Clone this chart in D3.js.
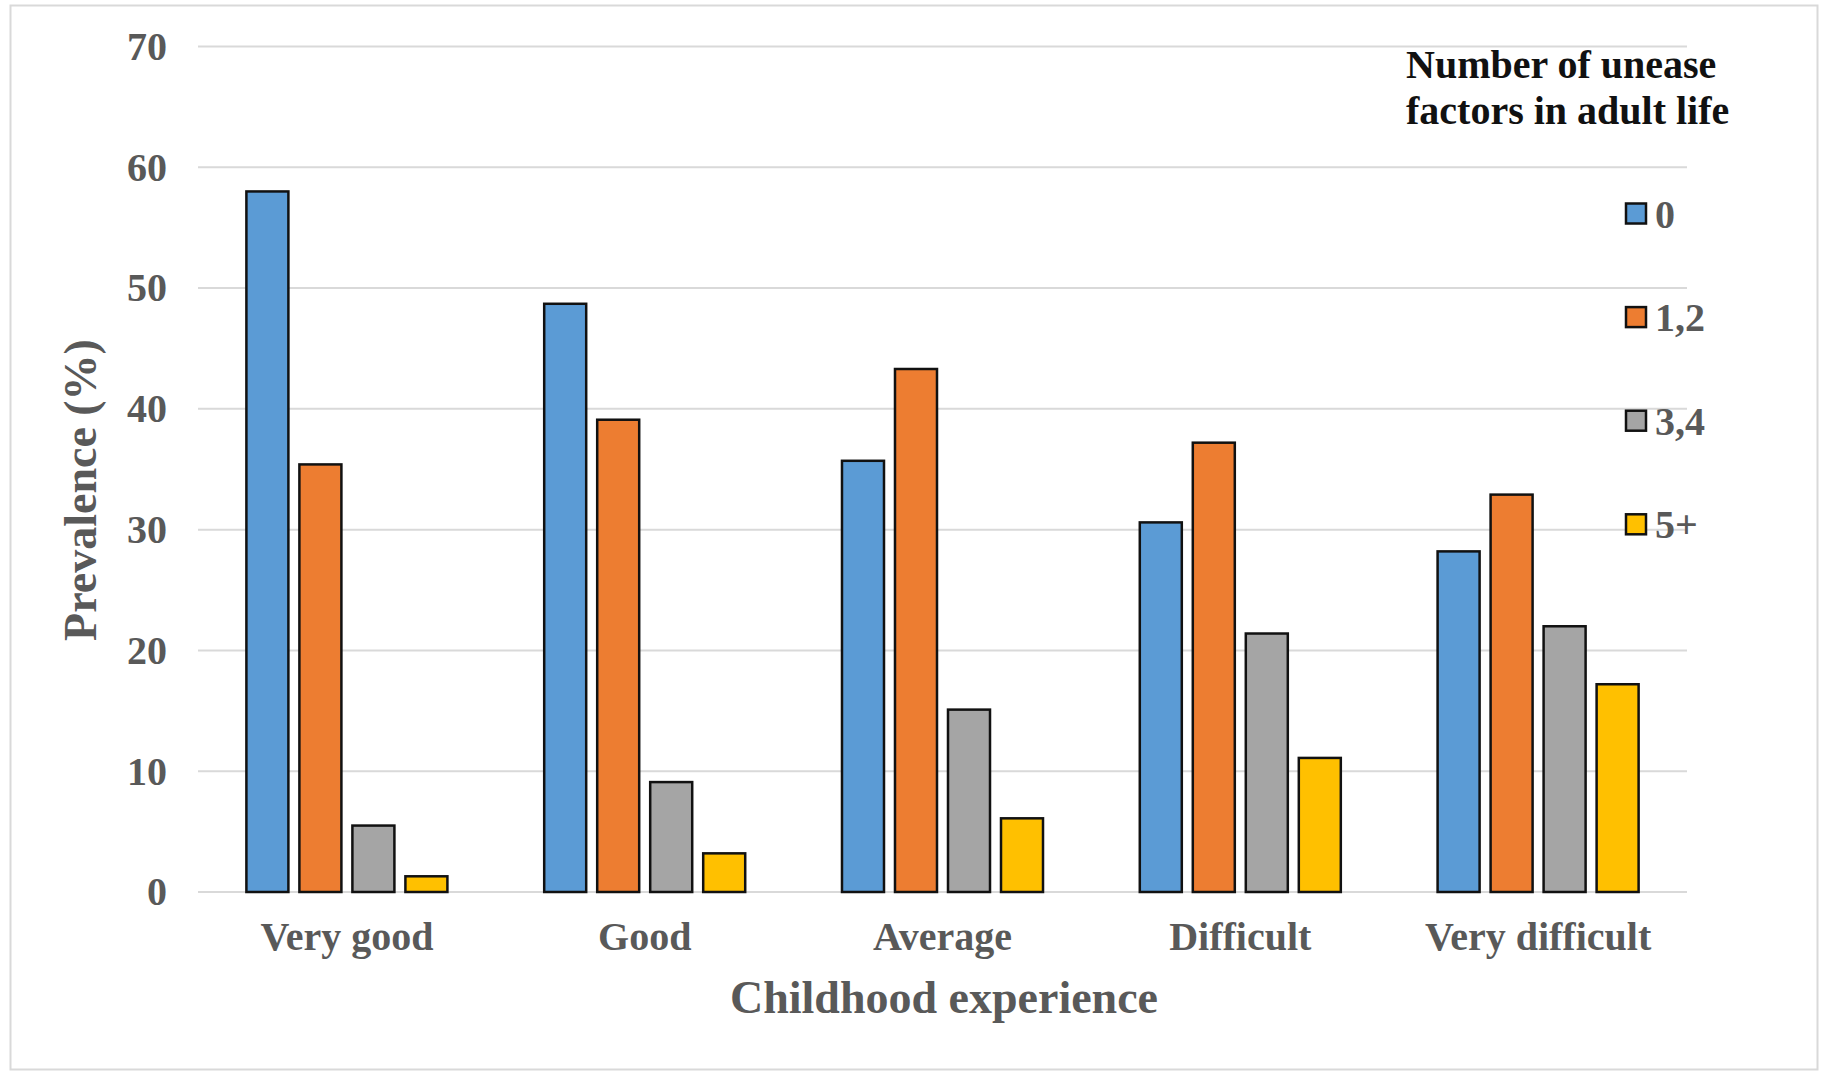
<!DOCTYPE html>
<html>
<head>
<meta charset="utf-8">
<script src="https://cdn.jsdelivr.net/npm/d3@7"></script>
<style>
  html, body { margin: 0; padding: 0; background: #ffffff; }
  svg { display: block; }
  text { font-family: "Liberation Serif", "Times New Roman", serif; font-weight: bold; }
</style>
</head>
<body>
<svg id="chart" width="1824" height="1072"></svg>
<script>
// Childhood experience groups
const categories = ["Very good", "Good", "Average", "Difficult", "Very difficult"];
// Number of unease factors in adult life
const seriesNames = ["0", "1,2", "3,4", "5+"];
const seriesColors = ["#5B9BD5", "#ED7D31", "#A5A5A5", "#FFC000"];
// Prevalence (%) per series, one value per category
const values0   = [58.0, 48.7, 35.7, 30.6, 28.2];
const values12  = [35.4, 39.1, 43.3, 37.2, 32.9];
const values34  = [5.5, 9.1, 15.1, 21.4, 22.0];
const values5p  = [1.3, 3.2, 6.1, 11.1, 17.2];
const yTicks = [0, 10, 20, 30, 40, 50, 60, 70];

const seriesValues = [values0, values12, values34, values5p];

const svg = d3.select("#chart");
const plot = { left: 198, right: 1687, top: 46.5, bottom: 892 };

// outer frame
svg.append("rect")
  .attr("x", 10.5).attr("y", 5.5)
  .attr("width", 1807).attr("height", 1064)
  .attr("fill", "#ffffff")
  .attr("stroke", "#d9d9d9").attr("stroke-width", 2);

const y = d3.scaleLinear().domain([0, 70]).range([plot.bottom, plot.top]);
const x0 = d3.scaleBand().domain(categories).range([plot.left, plot.right]).padding(0);
const x1 = d3.scaleBand().domain(seriesNames).range([0, x0.bandwidth()])
  .paddingInner(0.2075).paddingOuter(0.913);

// gridlines
svg.append("g")
  .selectAll("line")
  .data(yTicks)
  .join("line")
  .attr("x1", plot.left).attr("x2", plot.right)
  .attr("y1", d => y(d)).attr("y2", d => y(d))
  .attr("stroke", "#d9d9d9").attr("stroke-width", 2);

// y axis tick labels
const yAxis = d3.axisLeft(y).tickValues(yTicks).tickSize(0).tickPadding(0);
const yg = svg.append("g").attr("transform", `translate(167,0)`).call(yAxis);
yg.select(".domain").remove();
yg.selectAll("text")
  .attr("font-family", "Liberation Serif, Times New Roman, serif")
  .attr("font-weight", "bold")
  .attr("font-size", 40)
  .attr("fill", "#595959");

// bars
const groups = svg.append("g")
  .selectAll("g")
  .data(categories)
  .join("g")
  .attr("transform", c => `translate(${x0(c)},0)`);

groups.selectAll("rect")
  .data((c, ci) => seriesNames.map((s, si) => ({ s, si, v: seriesValues[si][ci] })))
  .join("rect")
  .attr("x", d => x1(d.s))
  .attr("width", x1.bandwidth())
  .attr("y", d => y(d.v))
  .attr("height", d => y(0) - y(d.v))
  .attr("fill", d => seriesColors[d.si])
  .attr("stroke", "#111111")
  .attr("stroke-width", 2.5);

// x axis category labels
const xAxis = d3.axisBottom(x0).tickSize(0).tickPadding(0);
const xg = svg.append("g").attr("transform", `translate(0,${plot.bottom})`).call(xAxis);
xg.select(".domain").remove();
xg.selectAll("text")
  .attr("dy", null)
  .attr("y", 58)
  .attr("font-family", "Liberation Serif, Times New Roman, serif")
  .attr("font-weight", "bold")
  .attr("font-size", 40)
  .attr("fill", "#595959");

// axis titles
svg.append("text")
  .attr("x", 944).attr("y", 1013)
  .attr("text-anchor", "middle")
  .attr("font-size", 46)
  .attr("fill", "#595959")
  .text("Childhood experience");

svg.append("text")
  .attr("transform", "translate(96,490) rotate(-90)")
  .attr("text-anchor", "middle")
  .attr("font-size", 46)
  .attr("fill", "#595959")
  .text("Prevalence (%)");

// legend
const legendTitle = ["Number of unease", "factors in adult life"];
svg.append("g")
  .selectAll("text")
  .data(legendTitle)
  .join("text")
  .attr("x", 1406)
  .attr("y", (d, i) => 78 + i * 46)
  .attr("font-size", 40)
  .attr("fill", "#111111")
  .text(d => d);

const legend = svg.append("g")
  .selectAll("g")
  .data(seriesNames)
  .join("g")
  .attr("transform", (d, i) => `translate(1626,${213.5 + i * 103.6})`);

legend.append("rect")
  .attr("x", 0).attr("y", -10)
  .attr("width", 20).attr("height", 20)
  .attr("fill", (d, i) => seriesColors[i])
  .attr("stroke", "#111111").attr("stroke-width", 2.5);

legend.append("text")
  .attr("x", 29).attr("y", 0)
  .attr("dy", "0.35em")
  .attr("font-size", 40)
  .attr("fill", "#595959")
  .text(d => d);
</script>
</body>
</html>
